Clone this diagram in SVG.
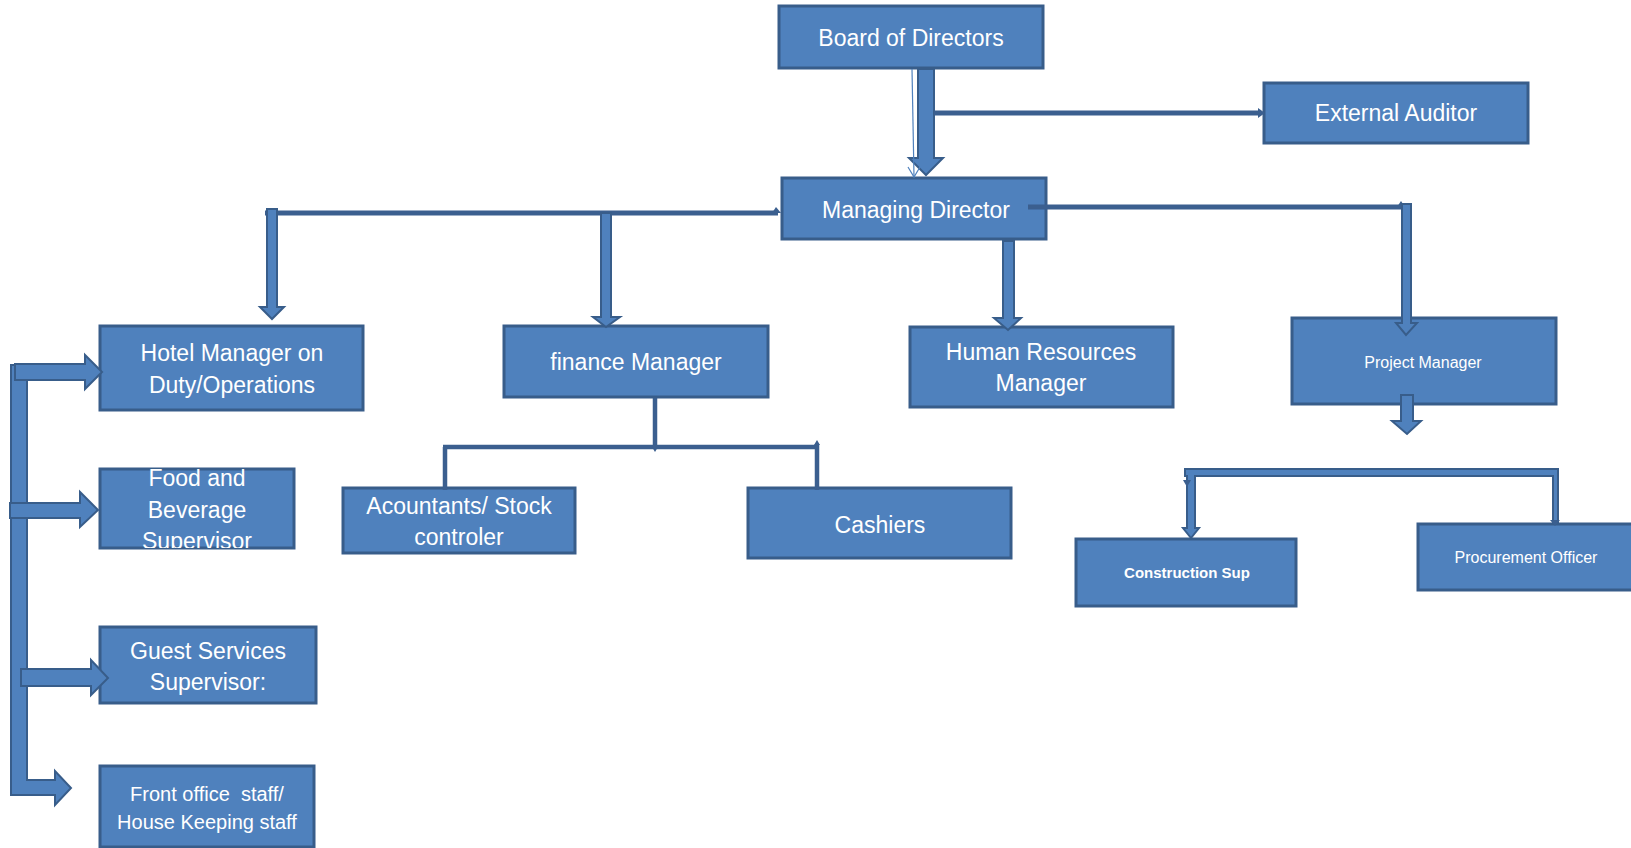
<svg xmlns="http://www.w3.org/2000/svg" width="1631" height="848" viewBox="0 0 1631 848">
<style>
.box{fill:#4F81BD;stroke:#385D8A;stroke-width:3}
.t{font-family:"Liberation Sans",Arial,sans-serif;font-size:23px;fill:#FFFFFF;text-anchor:middle}
.s{font-size:16px}
.b{font-size:15px;font-weight:bold}
.f{font-size:20px}
.blk{fill:#4F81BD;stroke:#385D8A;stroke-width:2;stroke-linejoin:miter}
.ln{fill:none;stroke:#3B5F8F;stroke-width:5}
.ln4{fill:none;stroke:#3B5F8F;stroke-width:4.5}
.hd{fill:#3B5F8F}
</style>
<defs>
<clipPath id="clipFood"><rect x="100" y="469" width="194" height="79"/></clipPath>
</defs>
<rect width="1631" height="848" fill="#FFFFFF"/>
<g id="board"><rect class="box" x="779" y="6" width="264" height="62"/><text class="t" x="911" y="46">Board of Directors</text></g>
<g id="auditor"><rect class="box" x="1264" y="83" width="264" height="60"/><text class="t" x="1396" y="121">External Auditor</text></g>
<g id="md"><rect class="box" x="782" y="178" width="264" height="61"/><text class="t" x="916" y="218">Managing Director</text></g>
<g id="hotel"><rect class="box" x="100" y="326" width="263" height="84"/><text class="t" x="232" y="361">Hotel Manager on</text><text class="t" x="232" y="393">Duty/Operations</text></g>
<g id="finance"><rect class="box" x="504" y="326" width="264" height="71"/><text class="t" x="636" y="370">finance Manager</text></g>
<g id="hr"><rect class="box" x="910" y="327" width="263" height="80"/><text class="t" x="1041" y="360">Human Resources</text><text class="t" x="1041" y="391">Manager</text></g>
<g id="pm"><rect class="box" x="1292" y="318" width="264" height="86"/><text class="t s" x="1423" y="368">Project Manager</text></g>
<g id="food"><rect class="box" x="100" y="469" width="194" height="79"/><g clip-path="url(#clipFood)"><text class="t" x="197" y="486">Food and</text><text class="t" x="197" y="518">Beverage</text><text class="t" x="197" y="549">Supervisor</text></g></g>
<g id="accountants"><rect class="box" x="343" y="488" width="232" height="65"/><text class="t" x="459" y="514">Acountants/ Stock</text><text class="t" x="459" y="545">controler</text></g>
<g id="cashiers"><rect class="box" x="748" y="488" width="263" height="70"/><text class="t" x="880" y="533">Cashiers</text></g>
<g id="construction"><rect class="box" x="1076" y="539" width="220" height="67"/><text class="t b" x="1187" y="578">Construction Sup</text></g>
<g id="procurement"><rect class="box" x="1418" y="524" width="220" height="66"/><text class="t s" x="1526" y="563">Procurement Officer</text></g>
<g id="guest"><rect class="box" x="100" y="627" width="216" height="76"/><text class="t" x="208" y="659">Guest Services</text><text class="t" x="208" y="690">Supervisor:</text></g>
<g id="front"><rect class="box" x="100" y="766" width="214" height="81"/><text class="t f" x="207" y="801" xml:space="preserve">Front office  staff/</text><text class="t f" x="207" y="829">House Keeping staff</text></g>
<g id="connectors">
<polygon class="blk" points="918,69 934,69 934,158 943,158 926,175 909,158 918,158"/>
<line class="ln" x1="934" y1="113" x2="1260" y2="113"/>
<polygon class="hd" points="1258,108 1265,113 1258,118"/>
<line x1="912" y1="69" x2="914" y2="177" stroke="#4F81BD" stroke-width="1.2"/>
<polyline points="908,167 914,177 920,167" fill="none" stroke="#4F81BD" stroke-width="1.2"/>
<line class="ln" x1="265" y1="213" x2="778" y2="213"/>
<polygon class="hd" points="772,213 776,207 781,213"/>
<polygon class="blk" points="267,209 277,209 277,307 284,307 272,319 260,307 267,307"/>
<polygon class="blk" points="601,213 611,213 611,317 620,317 606,327 593,317 601,317"/>
<polygon class="blk" points="1003,241 1014,241 1014,318 1021,318 1008,330 994,318 1003,318"/>
<line class="ln" x1="1028" y1="207" x2="1404" y2="207"/>
<polygon class="hd" points="1397,207 1401,201 1405,207"/>
<polygon class="blk" points="1402,204 1411,204 1411,323 1417,323 1406,335 1396,323 1402,323"/>
<polygon class="blk" points="1401,395 1413,395 1413,421 1421,421 1407,434 1392,421 1401,421"/>
<polygon class="blk" points="1185,469 1558,469 1558,523 1553,523 1553,476 1195,476 1195,528 1199,528 1191,538 1183,528 1187,528 1187,476 1185,476"/>
<polygon class="hd" points="1183,480 1191,480 1187,487"/>
<polygon class="hd" points="1550,520 1560,520 1555,526"/>
<line class="ln4" x1="655" y1="398" x2="655" y2="447"/>
<line class="ln4" x1="443" y1="447" x2="819" y2="447"/>
<line class="ln4" x1="445" y1="447" x2="445" y2="490"/>
<line class="ln4" x1="817" y1="444" x2="817" y2="490"/>
<polygon class="hd" points="814,445 817,440 820,445"/>
<polygon class="hd" points="652,447 658,447 655,452"/>
<polygon class="blk" points="11,365 27,365 27,780 55,780 55,771 71,788 55,805 55,795 11,795"/>
<polygon class="blk" points="15,364 85,364 85,355 102,372 85,389 85,380 15,380"/>
<polygon class="blk" points="10,503 80,503 80,492 98,510 80,527 80,518 10,518"/>
<polygon class="blk" points="21,669 91,669 91,660 108,678 91,695 91,686 21,686"/>
</g>
</svg>
